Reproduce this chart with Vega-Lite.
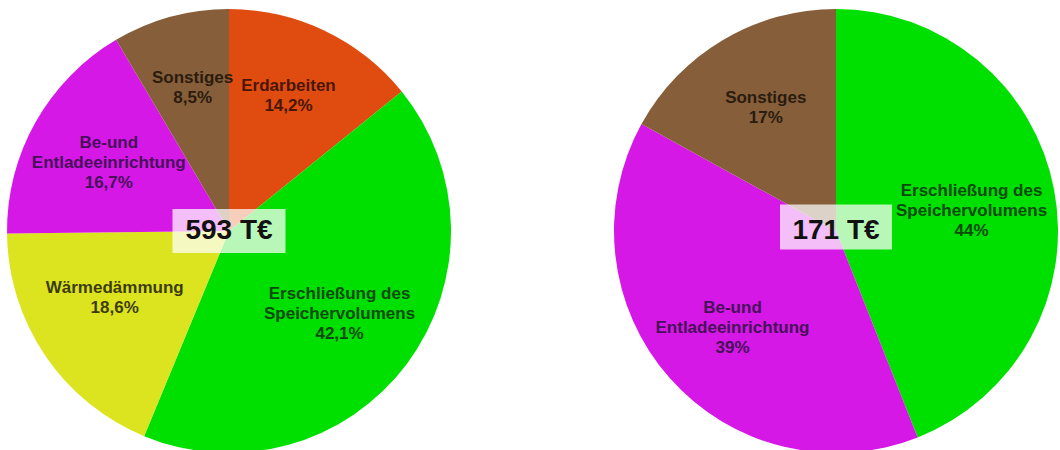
{
  "$schema": "https://vega.github.io/schema/vega-lite/v6.json",
  "background": "white",
  "padding": {"left": 5, "top": 9, "right": 0, "bottom": 0},
  "bounds": "flush",
  "config": {"view": {"stroke": null}, "concat": {"spacing": 159}},
  "datasets": {
    "links": [
      {"nr": 1, "kategorie": "Erdarbeiten", "anteil": 14.2, "label": "Erdarbeiten\n14,2%"},
      {"nr": 2, "kategorie": "Erschließung des Speichervolumens", "anteil": 42.1, "label": "Erschließung des\nSpeichervolumens\n42,1%"},
      {"nr": 3, "kategorie": "Wärmedämmung", "anteil": 18.6, "label": "Wärmedämmung\n18,6%"},
      {"nr": 4, "kategorie": "Be- und Entladeeinrichtung", "anteil": 16.7, "label": "Be-und\nEntladeeinrichtung\n16,7%"},
      {"nr": 5, "kategorie": "Sonstiges", "anteil": 8.5, "label": "Sonstiges\n8,5%"}
    ],
    "rechts": [
      {"nr": 1, "kategorie": "Erschließung des Speichervolumens", "anteil": 44, "label": "Erschließung des\nSpeichervolumens\n44%"},
      {"nr": 2, "kategorie": "Be- und Entladeeinrichtung", "anteil": 39, "label": "Be-und\nEntladeeinrichtung\n39%"},
      {"nr": 3, "kategorie": "Sonstiges", "anteil": 17, "label": "Sonstiges\n17%"}
    ],
    "summe_links": [{"summe": "593 T€"}],
    "summe_rechts": [{"summe": "171 T€"}]
  },
  "hconcat": [
    {
      "width": 448,
      "height": 440,
      "resolve": {"scale": {"color": "independent"}},
      "layer": [
        {
          "data": {"name": "links"},
          "mark": {"type": "arc", "radius": 222},
          "encoding": {
            "theta": {"field": "anteil", "type": "quantitative", "stack": true},
            "order": {"field": "nr", "type": "quantitative"},
            "color": {
              "field": "kategorie", "type": "nominal", "legend": null,
              "scale": {
                "domain": ["Erdarbeiten", "Erschließung des Speichervolumens", "Wärmedämmung", "Be- und Entladeeinrichtung", "Sonstiges"],
                "range": ["#e04c10", "#00e000", "#dce420", "#d618e6", "#865e3a"]
              }
            }
          }
        },
        {
          "data": {"name": "links"},
          "mark": {"type": "text", "radius": 138, "yOffset": -20, "lineBreak": "\n", "font": "Liberation Sans", "fontWeight": "bold", "fontSize": 17, "lineHeight": 20, "baseline": "middle", "align": "center"},
          "encoding": {
            "theta": {"field": "anteil", "type": "quantitative", "stack": true},
            "order": {"field": "nr", "type": "quantitative"},
            "text": {"field": "label", "type": "nominal"},
            "color": {
              "field": "kategorie", "type": "nominal", "legend": null,
              "scale": {
                "domain": ["Erdarbeiten", "Erschließung des Speichervolumens", "Wärmedämmung", "Be- und Entladeeinrichtung", "Sonstiges"],
                "range": ["#4a1604", "#0a4a0a", "#3c3c08", "#46105a", "#2a1c0e"]
              }
            }
          }
        },
        {
          "data": {"name": "summe_links"},
          "mark": {"type": "point", "shape": "M-1,-0.39L1,-0.39L1,0.39L-1,0.39Z", "size": 12769, "filled": true, "fill": "white", "fillOpacity": 0.72, "strokeWidth": 0, "opacity": 1},
          "encoding": {}
        },
        {
          "data": {"name": "summe_links"},
          "mark": {"type": "text", "font": "Liberation Sans", "fontWeight": "bold", "fontSize": 28, "color": "#111111", "baseline": "middle", "align": "center"},
          "encoding": {"text": {"field": "summe", "type": "nominal"}}
        }
      ]
    },
    {
      "width": 448,
      "height": 440,
      "resolve": {"scale": {"color": "independent"}},
      "layer": [
        {
          "data": {"name": "rechts"},
          "mark": {"type": "arc", "radius": 222},
          "encoding": {
            "theta": {"field": "anteil", "type": "quantitative", "stack": true},
            "order": {"field": "nr", "type": "quantitative"},
            "color": {
              "field": "kategorie", "type": "nominal", "legend": null,
              "scale": {
                "domain": ["Erschließung des Speichervolumens", "Be- und Entladeeinrichtung", "Sonstiges"],
                "range": ["#00e000", "#d618e6", "#865e3a"]
              }
            }
          }
        },
        {
          "data": {"name": "rechts"},
          "mark": {"type": "text", "radius": 138, "yOffset": -14, "lineBreak": "\n", "font": "Liberation Sans", "fontWeight": "bold", "fontSize": 17, "lineHeight": 20, "baseline": "middle", "align": "center"},
          "encoding": {
            "theta": {"field": "anteil", "type": "quantitative", "stack": true},
            "order": {"field": "nr", "type": "quantitative"},
            "text": {"field": "label", "type": "nominal"},
            "color": {
              "field": "kategorie", "type": "nominal", "legend": null,
              "scale": {
                "domain": ["Erschließung des Speichervolumens", "Be- und Entladeeinrichtung", "Sonstiges"],
                "range": ["#0a4a0a", "#46105a", "#2a1c0e"]
              }
            }
          }
        },
        {
          "data": {"name": "summe_rechts"},
          "mark": {"type": "point", "shape": "M-1,-0.4L1,-0.4L1,0.4L-1,0.4Z", "size": 12544, "filled": true, "fill": "white", "fillOpacity": 0.72, "strokeWidth": 0, "opacity": 1, "yOffset": -4},
          "encoding": {}
        },
        {
          "data": {"name": "summe_rechts"},
          "mark": {"type": "text", "font": "Liberation Sans", "fontWeight": "bold", "fontSize": 28, "color": "#111111", "baseline": "middle", "align": "center"},
          "encoding": {"text": {"field": "summe", "type": "nominal"}}
        }
      ]
    }
  ]
}
